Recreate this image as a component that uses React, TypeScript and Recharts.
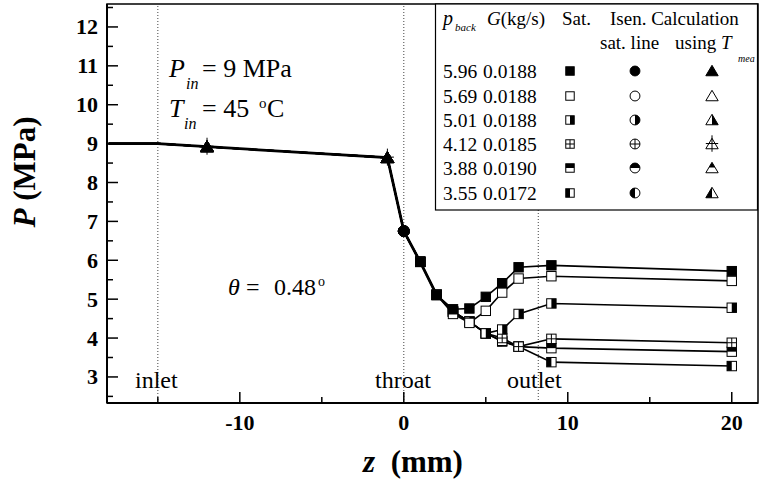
import React from 'react';
import { LineChart, Line, XAxis, YAxis, ReferenceLine, ReferenceArea } from 'recharts';

// axial position z (mm) and measured pressure P (MPa) for each back pressure
const zPos = [-18, -15, -12, -1, 0, 1, 2, 3, 4, 5, 6, 7, 9, 20];
const p596 = [9.0, 9.0, 8.92, 8.64, 6.75, 5.96, 5.11, 4.74, 4.76, 5.06, 5.41, 5.82, 5.87, 5.72];
const p569 = [9.0, 9.0, 8.92, 8.64, 6.75, 5.96, 5.11, 4.62, 4.39, 4.7, 5.17, 5.53, 5.59, 5.47];
const p501 = [9.0, 9.0, 8.92, 8.64, 6.75, 5.96, 5.11, 4.68, 4.42, 4.12, 4.22, 4.62, 4.89, 4.78];
const p412 = [9.0, 9.0, 8.92, 8.64, 6.75, 5.96, 5.11, 4.68, 4.42, 4.12, 4.0, 3.78, 3.98, 3.88];
const p388 = [9.0, 9.0, 8.92, 8.64, 6.75, 5.96, 5.11, 4.68, 4.42, 4.12, 3.93, 3.78, 3.74, 3.65];
const p355 = [9.0, 9.0, 8.92, 8.64, 6.75, 5.96, 5.11, 4.68, 4.42, 4.12, 3.91, 3.78, 3.38, 3.28];

const pBack = ['5.96', '5.69', '5.01', '4.12', '3.88', '3.55'];
const flowG = ['0.0188', '0.0188', '0.0188', '0.0185', '0.0190', '0.0172'];

// points computed with T_mea (triangles) and with isentropic sat. line (circle)
const calcZ = [-12, -1];
const isenZ = [0];

const xTicks = [-15, -10, -5, 0, 5, 10, 15, 20];
const yTicks = [2.5, 3, 3.5, 4, 4.5, 5, 5.5, 6, 6.5, 7, 7.5, 8, 8.5, 9, 9.5, 10, 10.5, 11, 11.5, 12, 12.5];
const refLines = [-15, 0, 8.2];

const xDomain = [-18.1, 21.6];
const yDomain = [2.33, 12.59];

const series = [p596, p569, p501, p412, p388, p355];
const fills = ['full', 'open', 'right', 'plus', 'top', 'left'];

const data = zPos.map((z, i) => {
  const row: any = { z };
  series.forEach((s, k) => (row['s' + k] = s[i]));
  // part shared by all six runs is drawn heavier, like the overlapping curves in the figure
  row.common = series.every((s) => s[i] === series[0][i]) ? series[0][i] : null;
  return row;
});

const serif = '"Liberation Serif", "Times New Roman", serif';

function Marker({ cx, cy, shape, fill, s = 1 }: any) {
  const bg = fill === 'full' ? '#000' : '#fff';
  if (shape === 'square') {
    const h = 4.7 * s;
    return (
      <g>
        <rect x={cx - h} y={cy - h} width={2 * h} height={2 * h} fill={bg} stroke="#000" strokeWidth={1} />
        {fill === 'right' && <rect x={cx} y={cy - h} width={h} height={2 * h} fill="#000" />}
        {fill === 'left' && <rect x={cx - h} y={cy - h} width={h} height={2 * h} fill="#000" />}
        {fill === 'top' && <rect x={cx - h} y={cy - h} width={2 * h} height={h} fill="#000" />}
        {fill === 'plus' && <path d={`M${cx - h},${cy}H${cx + h}M${cx},${cy - h}V${cy + h}`} stroke="#000" strokeWidth={1} />}
      </g>
    );
  }
  if (shape === 'circle') {
    const r = 5.5 * s;
    return (
      <g>
        <circle cx={cx} cy={cy} r={r} fill={bg} stroke="#000" strokeWidth={1} />
        {fill === 'right' && <path d={`M${cx},${cy - r}A${r},${r} 0 0 1 ${cx},${cy + r}Z`} fill="#000" />}
        {fill === 'left' && <path d={`M${cx},${cy - r}A${r},${r} 0 0 0 ${cx},${cy + r}Z`} fill="#000" />}
        {fill === 'top' && <path d={`M${cx - r},${cy}A${r},${r} 0 0 1 ${cx + r},${cy}Z`} fill="#000" />}
        {fill === 'plus' && <path d={`M${cx - r},${cy}H${cx + r}M${cx},${cy - r}V${cy + r}`} stroke="#000" strokeWidth={1} />}
      </g>
    );
  }
  const w = 6.5 * s;
  const t = cy - 6 * s;
  const b = cy + 5 * s;
  const m = (t + b) / 2;
  return (
    <g>
      <polygon points={`${cx},${t} ${cx + w},${b} ${cx - w},${b}`} fill={bg} stroke="#000" strokeWidth={1} />
      {fill === 'right' && <polygon points={`${cx},${t} ${cx + w},${b} ${cx},${b}`} fill="#000" />}
      {fill === 'left' && <polygon points={`${cx},${t} ${cx - w},${b} ${cx},${b}`} fill="#000" />}
      {fill === 'top' && <polygon points={`${cx},${t} ${cx + w / 2},${m} ${cx - w / 2},${m}`} fill="#000" />}
      {fill === 'plus' && <path d={`M${cx},${t - 3}V${b + 3}M${cx - w},${m}H${cx + w}`} stroke="#000" strokeWidth={1} />}
    </g>
  );
}

const dotFor = (k: number) => (p: any) => {
  const z = p.payload.z;
  const shape = calcZ.includes(z) ? 'triangle' : isenZ.includes(z) ? 'circle' : z > 0 ? 'square' : null;
  if (!shape || p.cx == null) return <g key={p.index} />;
  return <Marker key={p.index} cx={p.cx} cy={p.cy} shape={shape} fill={fills[k]} />;
};

const XTick = ({ x, y, payload }: any) => {
  const major = payload.value % 10 === 0;
  return (
    <g>
      <line x1={x} y1={y} x2={x} y2={y - (major ? 11 : 6)} stroke="#000" strokeWidth={1.5} />
      {major && (
        <text x={x} y={y + 27} textAnchor="middle" fontFamily={serif} fontWeight="bold" fontSize={22} fill="#000">
          {payload.value}
        </text>
      )}
    </g>
  );
};

const YTick = ({ x, y, payload }: any) => {
  const major = Number.isInteger(payload.value);
  return (
    <g>
      <line x1={x} y1={y} x2={x + (major ? 11 : 6)} y2={y} stroke="#000" strokeWidth={1.5} />
      {major && (
        <text x={x - 9} y={y + 7.5} textAnchor="end" fontFamily={serif} fontWeight="bold" fontSize={22} fill="#000">
          {payload.value}
        </text>
      )}
    </g>
  );
};

const rowY = [71, 96, 120, 144, 168, 193];

const Overlay = () => (
  <svg width={760} height={480} style={{ position: 'absolute', left: 0, top: 0 }} fontFamily={serif} fill="#000">
    {/* legend table */}
    <rect x={435.5} y={4} width={322} height={206} fill="#fff" stroke="#000" strokeWidth={1.2} />
    <text x={443} y={25} fontSize={20} fontStyle="italic">p</text>
    <text x={455} y={31} fontSize={11} fontStyle="italic">back</text>
    <text x={487} y={25} fontSize={19}><tspan fontStyle="italic">G</tspan>(kg/s)</text>
    <text x={562} y={25} fontSize={19}>Sat.</text>
    <text x={610} y={25} fontSize={19}>Isen. Calculation</text>
    <text x={600} y={49} fontSize={19}>sat. line</text>
    <text x={675} y={49} fontSize={19}>using <tspan fontStyle="italic">T</tspan></text>
    <text x={738} y={62} fontSize={10} fontStyle="italic">mea</text>
    {pBack.map((pb, i) => (
      <g key={pb}>
        <text x={443} y={rowY[i] + 6.5} fontSize={19.5}>{pb}</text>
        <text x={483} y={rowY[i] + 6.5} fontSize={19.5}>{flowG[i]}</text>
        <Marker cx={570} cy={rowY[i]} shape="square" fill={fills[i]} s={0.9} />
        <Marker cx={635} cy={rowY[i]} shape="circle" fill={fills[i]} s={0.9} />
        <Marker cx={712} cy={rowY[i]} shape="triangle" fill={fills[i]} s={0.95} />
      </g>
    ))}
    {/* annotations */}
    <text x={169} y={77} fontSize={26} fontStyle="italic">P</text>
    <text x={186} y={89} fontSize={16} fontStyle="italic">in</text>
    <text x={202} y={77} fontSize={26}>= 9 MPa</text>
    <text x={169} y={117} fontSize={26} fontStyle="italic">T</text>
    <text x={184} y={129} fontSize={16} fontStyle="italic">in</text>
    <text x={202} y={117} fontSize={26}>= 45</text>
    <text x={259} y={108} fontSize={15}>o</text>
    <text x={267} y={117} fontSize={26}>C</text>
    <text x={228} y={295} fontSize={24} fontStyle="italic">θ</text>
    <text x={246} y={295} fontSize={24}>=</text>
    <text x={274} y={295} fontSize={24}>0.48</text>
    <text x={318} y={286} fontSize={14}>o</text>
    <text x={135} y={388} fontSize={24}>inlet</text>
    <text x={375} y={388} fontSize={24}>throat</text>
    <text x={507} y={388} fontSize={24}>outlet</text>
    {/* axis titles */}
    <text x={413} y={472} fontSize={31} fontWeight="bold" textAnchor="middle">
      <tspan fontStyle="italic">z</tspan>{'\u00a0 (mm)'}
    </text>
    <text x={35} y={172} fontSize={31} fontWeight="bold" textAnchor="middle" transform="rotate(-90 35 172)">
      <tspan fontStyle="italic">P</tspan> (MPa)
    </text>
  </svg>
);

export default function App() {
  return (
    <div style={{ position: 'absolute', left: 0, top: 0, width: 760, height: 480, background: '#fff' }}>
      <LineChart width={760} height={480} data={data} margin={{ top: 4, right: 2, left: 0, bottom: 0 }}>
        <XAxis
          dataKey="z"
          type="number"
          domain={xDomain}
          allowDataOverflow
          ticks={xTicks}
          interval={0}
          tickSize={0}
          tickMargin={0}
          tickLine={false}
          height={77}
          axisLine={{ stroke: '#000', strokeWidth: 2 }}
          tick={<XTick />}
        />
        <YAxis
          type="number"
          domain={yDomain}
          allowDataOverflow
          ticks={yTicks}
          interval={0}
          tickSize={0}
          tickMargin={0}
          tickLine={false}
          width={107}
          axisLine={{ stroke: '#000', strokeWidth: 2 }}
          tick={<YTick />}
        />
        <ReferenceArea x1={xDomain[0]} x2={xDomain[1]} y1={yDomain[0]} y2={yDomain[1]} fill="none" stroke="#000" strokeWidth={1.5} />
        {refLines.map((z) => (
          <ReferenceLine key={z} x={z} stroke="#444" strokeWidth={1} strokeDasharray="1 2" />
        ))}
        <Line
          type="linear"
          dataKey="common"
          stroke="#000"
          strokeWidth={2.8}
          dot={false}
          activeDot={false}
          connectNulls={false}
          isAnimationActive={false}
        />
        {[5, 4, 3, 2, 1, 0].map((k) => (
          <Line
            key={k}
            type="linear"
            dataKey={'s' + k}
            stroke="#000"
            strokeWidth={1.6}
            dot={dotFor(k)}
            activeDot={false}
            isAnimationActive={false}
          />
        ))}
      </LineChart>
      <Overlay />
    </div>
  );
}
